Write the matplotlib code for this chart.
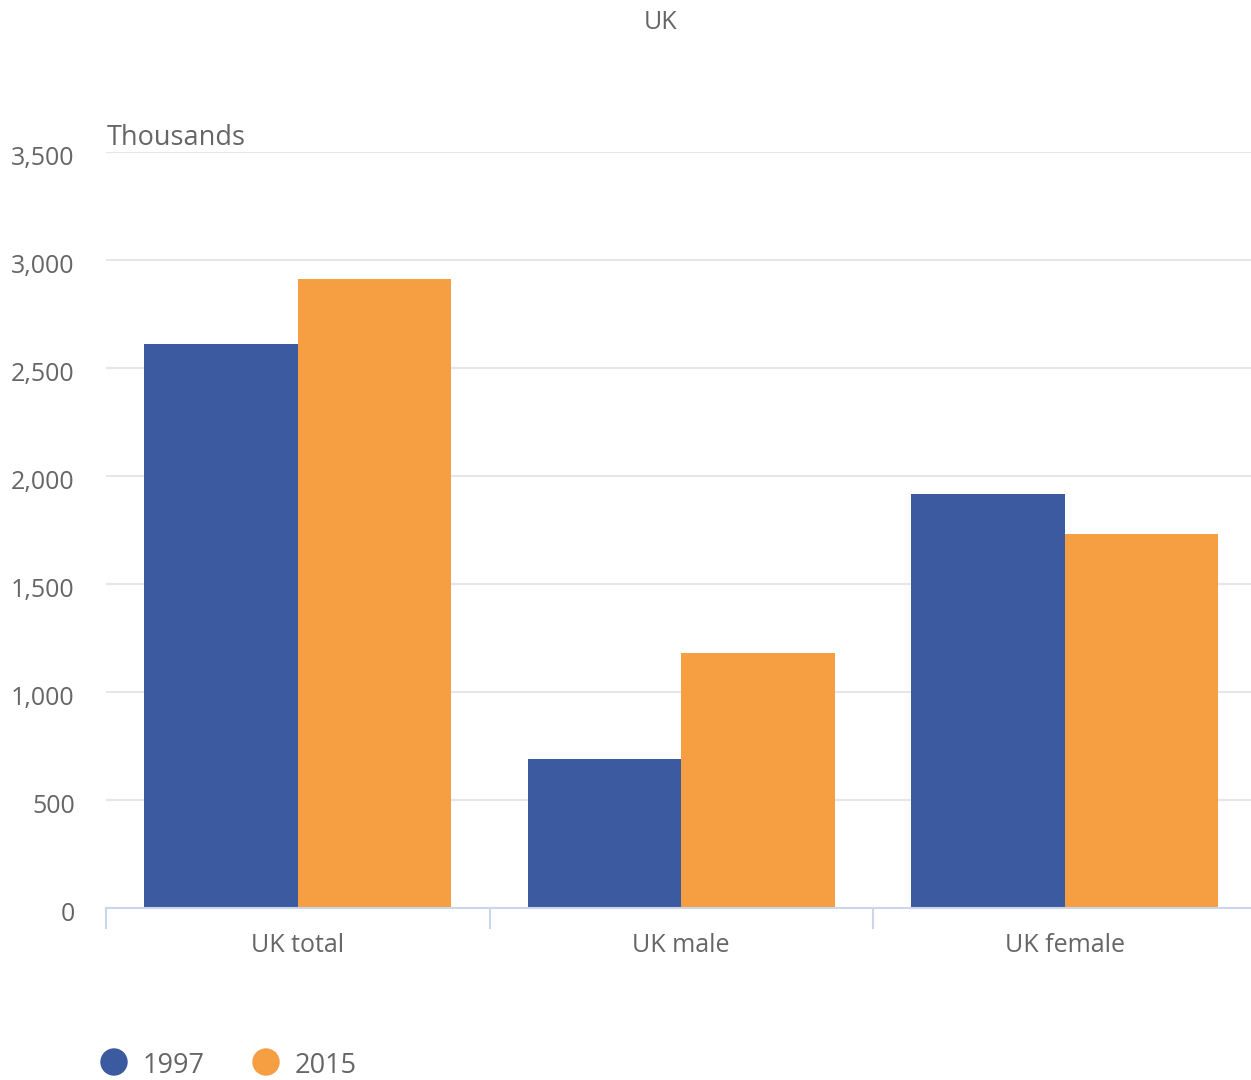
import matplotlib
matplotlib.use("Agg")
import matplotlib.pyplot as plt
import numpy as np
from matplotlib.transforms import blended_transform_factory, ScaledTranslation

categories = ["UK total", "UK male", "UK female"]
series_names = ["1997", "2015"]
values_1997 = [2611, 692, 1916]
values_2015 = [2913, 1183, 1735]
y_ticks = [0, 500, 1000, 1500, 2000, 2500, 3000, 3500]

colors = ["#3b5aa0", "#f59e42"]
txt = "#666666"
plt.rcParams['font.family'] = ['Open Sans', 'DejaVu Sans']

W, H = 1251, 1080
fig = plt.figure(figsize=(W/100, H/100), dpi=100)
left, right, bottom, top = 106, 1256.5, 908.3, 152.3
ax = fig.add_axes([left/W, 1-bottom/H, (right-left)/W, (bottom-top)/H])

x = np.arange(len(categories))
bw = 0.4
ax.bar(x - bw/2, values_1997, width=bw, color=colors[0], zorder=3, linewidth=0)
ax.bar(x + bw/2, values_2015, width=bw, color=colors[1], zorder=3, linewidth=0)

ax.set_xlim(-0.5, len(categories) - 0.5)
ax.set_ylim(0, 3500)
ax.set_yticks(y_ticks)
ax.set_yticklabels([f"{v:,}" for v in y_ticks])
ax.yaxis.grid(True, color="#e6e6e6", linewidth=1.5, zorder=0)
ax.set_axisbelow(True)
for s in ["top", "right", "left"]:
    ax.spines[s].set_visible(False)
ax.spines["bottom"].set_color("#ccd6eb")
ax.spines["bottom"].set_linewidth(1.5)
ax.spines["bottom"].set_zorder(4)
ax.tick_params(axis="y", length=0, labelsize=18, labelcolor=txt, pad=22.5)
ax.set_xticks(x)
ax.set_xticklabels(categories)
ax.tick_params(axis="x", length=0, labelsize=18, labelcolor=txt, pad=17.5)

off = ScaledTranslation(0, -3/100, fig.dpi_scale_trans)
for lbl in ax.get_yticklabels():
    lbl.set_transform(lbl.get_transform() + off)

tr = blended_transform_factory(ax.transData, fig.transFigure)
for b in np.arange(-0.5, len(categories) - 0.5, 1.0):
    ax.plot([b, b], [1-908/H, 1-928/H], transform=tr, color="#ccd6eb", lw=1.5, clip_on=False)

fig.text(661/W, 1-22.5/H, "UK", ha="center", va="center", fontsize=18, color=txt)
fig.text(107/W, 1-138/H, "Thousands", ha="left", va="center", fontsize=19.5, color=txt)

# legend
for i, (name, c) in enumerate(zip(series_names, colors)):
    mx = [114, 266][i]
    fig.patches.append(matplotlib.patches.Ellipse((mx/W, 1-1062/H), 26/W, 26/H,
                                                  transform=fig.transFigure, color=c))
    fig.text((mx+29)/W, 1-1066/H, name, ha="left", va="center", fontsize=19.5, color=txt)

fig.savefig("out.png", dpi=100)
